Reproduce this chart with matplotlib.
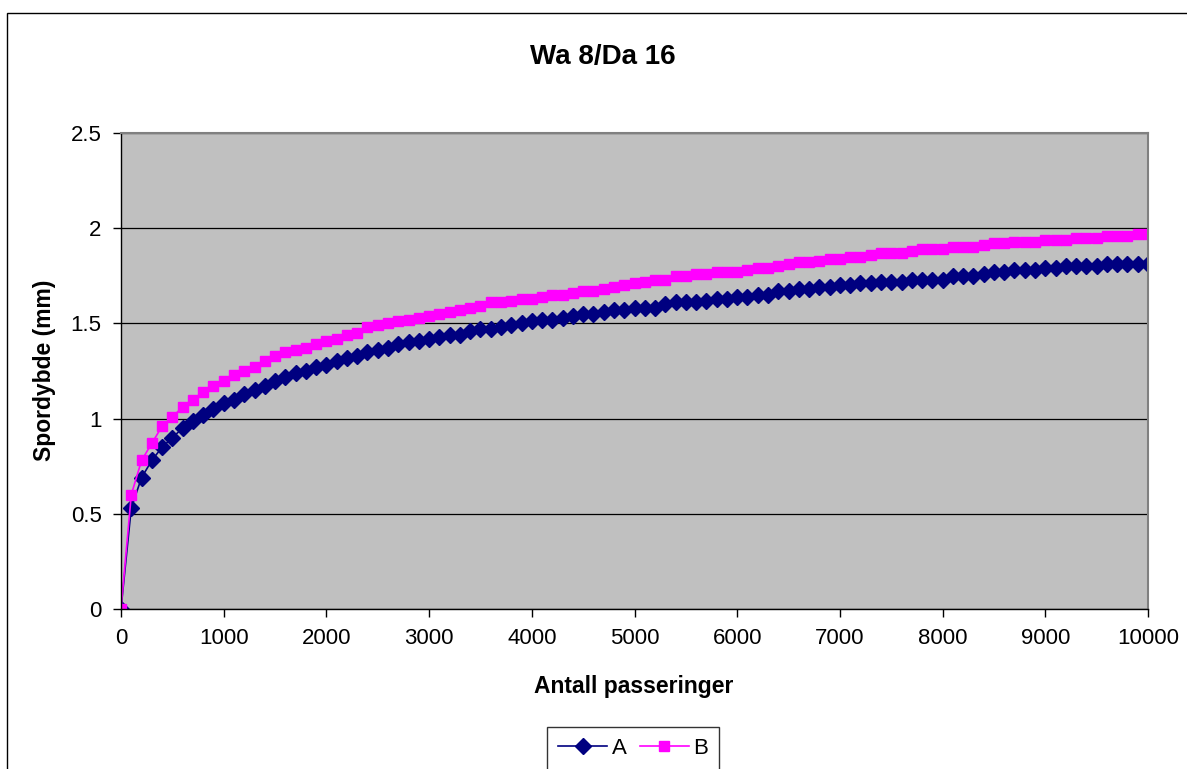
#!/usr/bin/env python
# -*- coding: utf-8 -*-

import numpy as np
import matplotlib
matplotlib.use('Agg')
import matplotlib.pyplot as plt
from matplotlib.patches import Rectangle
from matplotlib.ticker import FormatStrFormatter, MultipleLocator

# passes 0..10000, every 100
passes = np.arange(0, 10001, 100)

series_a = [
    0.00, 0.53, 0.69, 0.78, 0.85, 0.90, 0.95, 0.99, 1.02, 1.05,
    1.08, 1.10, 1.13, 1.15, 1.17, 1.20, 1.22, 1.24, 1.25, 1.27,
    1.28, 1.30, 1.32, 1.33, 1.35, 1.36, 1.37, 1.39, 1.40, 1.41,
    1.42, 1.43, 1.44, 1.44, 1.46, 1.47, 1.47, 1.48, 1.49, 1.50,
    1.51, 1.52, 1.52, 1.53, 1.54, 1.55, 1.55, 1.56, 1.57, 1.57,
    1.58, 1.58, 1.58, 1.60, 1.61, 1.61, 1.61, 1.62, 1.63, 1.63,
    1.64, 1.64, 1.65, 1.65, 1.67, 1.67, 1.68, 1.68, 1.69, 1.69,
    1.70, 1.70, 1.71, 1.71, 1.72, 1.72, 1.72, 1.73, 1.73, 1.73,
    1.73, 1.75, 1.75, 1.75, 1.76, 1.77, 1.77, 1.78, 1.78, 1.78,
    1.79, 1.79, 1.80, 1.80, 1.80, 1.80, 1.81, 1.81, 1.81, 1.81,
    1.81]

series_b = [
    0.00, 0.60, 0.78, 0.87, 0.96, 1.01, 1.06, 1.10, 1.14, 1.17,
    1.20, 1.23, 1.25, 1.27, 1.30, 1.33, 1.35, 1.36, 1.37, 1.39,
    1.41, 1.42, 1.44, 1.45, 1.48, 1.49, 1.50, 1.51, 1.52, 1.53,
    1.54, 1.55, 1.56, 1.57, 1.58, 1.59, 1.61, 1.61, 1.62, 1.63,
    1.63, 1.64, 1.65, 1.65, 1.66, 1.67, 1.67, 1.68, 1.69, 1.70,
    1.71, 1.72, 1.73, 1.73, 1.75, 1.75, 1.76, 1.76, 1.77, 1.77,
    1.77, 1.78, 1.79, 1.79, 1.80, 1.81, 1.82, 1.82, 1.83, 1.84,
    1.84, 1.85, 1.85, 1.86, 1.87, 1.87, 1.87, 1.88, 1.89, 1.89,
    1.89, 1.90, 1.90, 1.90, 1.91, 1.92, 1.92, 1.93, 1.93, 1.93,
    1.94, 1.94, 1.94, 1.95, 1.95, 1.95, 1.96, 1.96, 1.96, 1.97,
    1.97]

title = 'Wa 8/Da 16'
x_label = 'Antall passeringer'
y_label = 'Spordybde (mm)'

plt.rcParams['font.family'] = ['Liberation Sans', 'DejaVu Sans']

W, H = 1187, 769
fig = plt.figure(figsize=(W / 100, H / 100), dpi=100)
ax = fig.add_axes([121 / W, 1 - 609 / H, (1148 - 121) / W, (609 - 133) / H])

# outer chart border (runs off the right and bottom edges)
fig.patches.append(Rectangle((7 / W, -0.2), 1.2, 1 - 13 / H + 0.2,
                             transform=fig.transFigure, fill=False,
                             edgecolor='black', linewidth=1.0))

ax.set_facecolor('#c0c0c0')
ax.plot(passes, series_a, color='#000080', marker='D', markersize=8.5,
        linewidth=1.2, label='A')
ax.plot(passes, series_b, color='#ff00ff', marker='s', markersize=7.5,
        linewidth=1.2, label='B')

ax.set_xlim(0, 10000)
ax.set_ylim(0, 2.5)
ax.xaxis.set_major_locator(MultipleLocator(1000))
ax.yaxis.set_major_locator(MultipleLocator(0.5))
ax.yaxis.set_major_formatter(FormatStrFormatter('%g'))
ax.grid(axis='y', color='black', linewidth=0.9)
ax.set_axisbelow(True)
for s in ['top', 'right']:
    ax.spines[s].set_color('#808080')
    ax.spines[s].set_linewidth(1.5)
for s in ['left', 'bottom']:
    ax.spines[s].set_color('black')
    ax.spines[s].set_linewidth(1.0)
ax.tick_params(direction='out', length=6, width=1, labelsize=16, pad=8)
for lab in ax.get_xticklabels() + ax.get_yticklabels():
    lab.set_clip_on(False)
ax.margins(0)

fig.text(603 / W, 1 - 57 / H, title, ha='center', va='center',
         fontsize=20, fontweight='bold')
fig.text(634 / W, 1 - 687 / H, x_label, ha='center', va='center',
         fontsize=16.5, fontweight='bold')
fig.text(45 / W, 1 - 370 / H, y_label, ha='center', va='center',
         rotation=90, fontsize=16.5, fontweight='bold')

leg = fig.legend(loc='upper center', bbox_to_anchor=(633 / W, 1 - 727 / H),
                 ncol=2, fontsize=16, frameon=True, fancybox=False,
                 handlelength=2.2, columnspacing=0.6, handletextpad=0.2,
                 borderpad=0.5, borderaxespad=0)
leg.get_frame().set_edgecolor('black')
leg.get_frame().set_linewidth(1.0)

fig.savefig('out.png', dpi=100)
